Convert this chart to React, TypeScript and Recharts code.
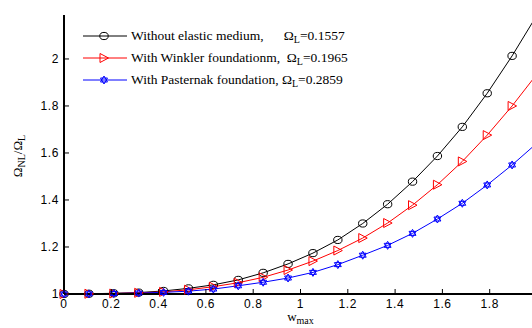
import React from "react";
import { LineChart, Line, XAxis, YAxis, Legend } from "recharts";

// w_max samples (linspace 0..2, 20 points)
const wMax = [
  0, 0.1053, 0.2105, 0.3158, 0.4211, 0.5263, 0.6316, 0.7368, 0.8421, 0.9474,
  1.0526, 1.1579, 1.2632, 1.3684, 1.4737, 1.5789, 1.6842, 1.7895, 1.8947, 2.0,
];
// Omega_NL / Omega_L for each case
const withoutMedium = [
  1, 1.001, 1.003, 1.006, 1.013, 1.024, 1.039, 1.06, 1.09, 1.128,
  1.174, 1.23, 1.3, 1.382, 1.478, 1.587, 1.711, 1.854, 2.013, 2.187,
];
const winkler = [
  1, 1.001, 1.002, 1.005, 1.009, 1.018, 1.031, 1.048, 1.071, 1.102,
  1.14, 1.185, 1.238, 1.302, 1.378, 1.465, 1.564, 1.676, 1.8, 1.936,
];
const pasternak = [
  1, 1.0005, 1.002, 1.004, 1.007, 1.012, 1.021, 1.035, 1.05, 1.068,
  1.092, 1.125, 1.165, 1.207, 1.258, 1.319, 1.386, 1.464, 1.549, 1.642,
];

const xTicks = [0, 0.2, 0.4, 0.6, 0.8, 1, 1.2, 1.4, 1.6, 1.8];
const yTicks = [1, 1.2, 1.4, 1.6, 1.8, 2];
const seriesNames = [
  "Without elastic medium,      ",
  "With Winkler foundationm,  ",
  "With Pasternak foundation, ",
];
const omegaL = ["0.1557", "0.1965", "0.2859"];
const colors = ["#000000", "#ff0000", "#0000ff"];

const data = wMax.map((w, i) => ({
  w,
  none: withoutMedium[i],
  winkler: winkler[i],
  pasternak: pasternak[i],
}));

const sans = "'Liberation Sans', Arial, Helvetica, sans-serif";
const serif = "'Liberation Serif', 'Times New Roman', serif";

// markers
const CircleMark = ({ cx, cy, color }: any) => (
  <ellipse cx={cx} cy={cy} rx={4.2} ry={3.6} fill="none" stroke={color} strokeWidth={1} />
);
const TriangleMark = ({ cx, cy, color }: any) => (
  <polygon
    points={`${cx - 4},${cy - 4.5} ${cx - 4},${cy + 4.5} ${cx + 4.5},${cy}`}
    fill="none"
    stroke={color}
    strokeWidth={1}
  />
);
const HexagramMark = ({ cx, cy, color }: any) => {
  const r = 4;
  const tri = (start: number) =>
    [0, 1, 2]
      .map((k) => {
        const a = ((start + k * 120) * Math.PI) / 180;
        return `${cx + r * Math.cos(a)},${cy + r * Math.sin(a)}`;
      })
      .join(" ");
  return (
    <g fill="none" stroke={color} strokeWidth={1}>
      <polygon points={tri(-90)} />
      <polygon points={tri(90)} />
    </g>
  );
};
const marks = [CircleMark, TriangleMark, HexagramMark];

const BottomTick = ({ x, y, payload }: any) => (
  <g>
    <line x1={x} x2={x} y1={y} y2={y - 5} stroke="#000" />
    <text x={x} y={y + 13.5} textAnchor="middle" fontSize={12} fontFamily={sans} fill="#000" letterSpacing={0.6}>
      {String(payload.value)}
    </text>
  </g>
);
const TopTick = ({ x, y }: any) => <line x1={x} x2={x} y1={y} y2={y + 5} stroke="#000" />;
const LeftTick = ({ x, y, payload }: any) => (
  <g>
    <line x1={x} x2={x + 5} y1={y} y2={y} stroke="#000" />
    <text x={x - 5} y={y + 4.3} textAnchor="end" fontSize={12} fontFamily={sans} fill="#000" letterSpacing={0.6}>
      {String(payload.value)}
    </text>
  </g>
);

const XLabel = ({ viewBox }: any) => (
  <text x={viewBox.x + viewBox.width / 2} y={viewBox.y + 27} textAnchor="middle" fontFamily={serif} fontSize={13} fill="#000">
    w<tspan dy={3} fontSize={10}>max</tspan>
  </text>
);
const YLabel = () => (
  <text transform="translate(22,156) rotate(-90)" textAnchor="middle" fontFamily={serif} fontSize={13} fill="#000">
    Ω<tspan dy={3} fontSize={10}>NL</tspan>
    <tspan dy={-3}>/Ω</tspan>
    <tspan dy={3} fontSize={10}>L</tspan>
  </text>
);

const LegendBox = () => (
  <div style={{ position: "relative", width: 300, height: 66, fontFamily: serif, fontSize: 13.5, color: "#000" }}>
    {seriesNames.map((name, i) => {
      const Mark = marks[i];
      return (
        <div key={name} style={{ position: "absolute", left: 0, top: i * 22, width: 300, height: 22 }}>
          <svg width={44} height={22} style={{ position: "absolute", left: 0, top: 0 }}>
            <line x1={0} x2={44} y1={11} y2={11} stroke={colors[i]} strokeWidth={1} />
            <Mark cx={21} cy={11} color={colors[i]} />
          </svg>
          <span style={{ position: "absolute", left: 48, top: 2, whiteSpace: "pre", lineHeight: "18px" }}>
            {name}Ω<span style={{ fontSize: 10, position: "relative", top: 3 }}>L</span>={omegaL[i]}
          </span>
        </div>
      );
    })}
  </div>
);

export default function App() {
  return (
    <div style={{ position: "fixed", left: 0, top: 0, width: 532, height: 328, overflow: "hidden", background: "#fff" }}>
      <LineChart width={560} height={328} data={data} margin={{ top: 15, right: 23, bottom: 0, left: 0 }}>
        <XAxis
          dataKey="w"
          type="number"
          domain={[0, 2]}
          ticks={xTicks}
          height={34}
          tickSize={0}
          tickMargin={0}
          tickLine={false}
          tick={<BottomTick />}
          axisLine={{ stroke: "#000", strokeWidth: 2 }}
          label={XLabel}
        />
        <XAxis
          xAxisId="top"
          orientation="top"
          type="number"
          domain={[0, 2]}
          ticks={xTicks}
          height={0}
          tickSize={0}
          tickMargin={0}
          tickLine={false}
          tick={<TopTick />}
          axisLine={{ stroke: "#000", strokeWidth: 1.5 }}
        />
        <YAxis
          type="number"
          domain={[1, 2.187]}
          ticks={yTicks}
          width={64}
          tickSize={0}
          tickMargin={0}
          tickLine={false}
          tick={<LeftTick />}
          axisLine={{ stroke: "#000", strokeWidth: 2 }}
          label={YLabel}
        />
        <Legend
          layout="vertical"
          align="center"
          verticalAlign="middle"
          content={LegendBox}
          wrapperStyle={{ left: 83, top: 25, width: 300, height: 66 }}
        />
        <Line
          dataKey="none"
          stroke={colors[0]}
          strokeWidth={1}
          isAnimationActive={false}
          dot={(p: any) => <CircleMark key={p.index} cx={p.cx} cy={p.cy} color={colors[0]} />}
        />
        <Line
          dataKey="winkler"
          stroke={colors[1]}
          strokeWidth={1}
          isAnimationActive={false}
          dot={(p: any) => <TriangleMark key={p.index} cx={p.cx} cy={p.cy} color={colors[1]} />}
        />
        <Line
          dataKey="pasternak"
          stroke={colors[2]}
          strokeWidth={1}
          isAnimationActive={false}
          dot={(p: any) => <HexagramMark key={p.index} cx={p.cx} cy={p.cy} color={colors[2]} />}
        />
      </LineChart>
    </div>
  );
}
